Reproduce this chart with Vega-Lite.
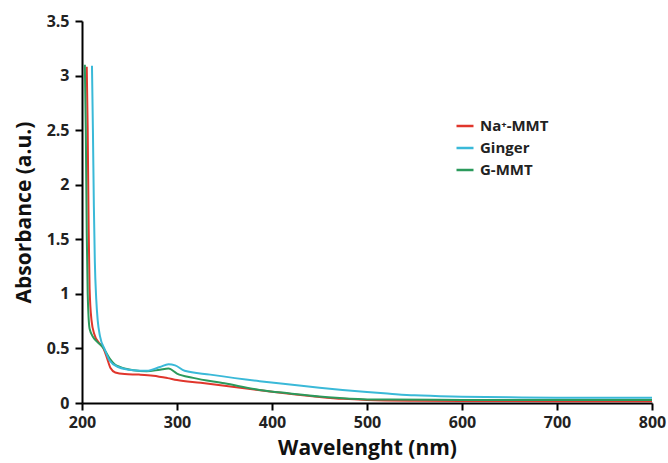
{
  "$schema": "https://vega.github.io/schema/vega-lite/v6.json",
  "width": 570,
  "height": 382,
  "autosize": {"type": "none"},
  "padding": {"left": 82, "top": 21, "right": 16, "bottom": 60},
  "background": "white",
  "config": {
    "view": {"stroke": null},
    "font": "Open Sans"
  },
  "data": {
    "values": [
      {"wl": 205, "a": 3.08, "s": "Na⁺-MMT"},
      {"wl": 206, "a": 2.5, "s": "Na⁺-MMT"},
      {"wl": 207, "a": 1.6, "s": "Na⁺-MMT"},
      {"wl": 208, "a": 1.05, "s": "Na⁺-MMT"},
      {"wl": 210, "a": 0.76, "s": "Na⁺-MMT"},
      {"wl": 213, "a": 0.63, "s": "Na⁺-MMT"},
      {"wl": 218, "a": 0.55, "s": "Na⁺-MMT"},
      {"wl": 222, "a": 0.51, "s": "Na⁺-MMT"},
      {"wl": 226, "a": 0.42, "s": "Na⁺-MMT"},
      {"wl": 230, "a": 0.32, "s": "Na⁺-MMT"},
      {"wl": 235, "a": 0.28, "s": "Na⁺-MMT"},
      {"wl": 245, "a": 0.265, "s": "Na⁺-MMT"},
      {"wl": 260, "a": 0.26, "s": "Na⁺-MMT"},
      {"wl": 275, "a": 0.25, "s": "Na⁺-MMT"},
      {"wl": 290, "a": 0.228, "s": "Na⁺-MMT"},
      {"wl": 300, "a": 0.21, "s": "Na⁺-MMT"},
      {"wl": 325, "a": 0.185, "s": "Na⁺-MMT"},
      {"wl": 350, "a": 0.158, "s": "Na⁺-MMT"},
      {"wl": 375, "a": 0.13, "s": "Na⁺-MMT"},
      {"wl": 400, "a": 0.103, "s": "Na⁺-MMT"},
      {"wl": 425, "a": 0.078, "s": "Na⁺-MMT"},
      {"wl": 450, "a": 0.056, "s": "Na⁺-MMT"},
      {"wl": 475, "a": 0.038, "s": "Na⁺-MMT"},
      {"wl": 500, "a": 0.028, "s": "Na⁺-MMT"},
      {"wl": 550, "a": 0.021, "s": "Na⁺-MMT"},
      {"wl": 600, "a": 0.019, "s": "Na⁺-MMT"},
      {"wl": 700, "a": 0.017, "s": "Na⁺-MMT"},
      {"wl": 800, "a": 0.016, "s": "Na⁺-MMT"},
      {"wl": 203, "a": 3.1, "s": "G-MMT"},
      {"wl": 204, "a": 2.5, "s": "G-MMT"},
      {"wl": 205, "a": 1.55, "s": "G-MMT"},
      {"wl": 206, "a": 1.0, "s": "G-MMT"},
      {"wl": 208, "a": 0.68, "s": "G-MMT"},
      {"wl": 212, "a": 0.6, "s": "G-MMT"},
      {"wl": 216, "a": 0.56, "s": "G-MMT"},
      {"wl": 222, "a": 0.51, "s": "G-MMT"},
      {"wl": 229, "a": 0.41, "s": "G-MMT"},
      {"wl": 235, "a": 0.35, "s": "G-MMT"},
      {"wl": 240, "a": 0.33, "s": "G-MMT"},
      {"wl": 254, "a": 0.3, "s": "G-MMT"},
      {"wl": 268, "a": 0.29, "s": "G-MMT"},
      {"wl": 282, "a": 0.305, "s": "G-MMT"},
      {"wl": 291, "a": 0.315, "s": "G-MMT"},
      {"wl": 300, "a": 0.27, "s": "G-MMT"},
      {"wl": 317, "a": 0.23, "s": "G-MMT"},
      {"wl": 350, "a": 0.18, "s": "G-MMT"},
      {"wl": 387, "a": 0.12, "s": "G-MMT"},
      {"wl": 419, "a": 0.088, "s": "G-MMT"},
      {"wl": 450, "a": 0.06, "s": "G-MMT"},
      {"wl": 482, "a": 0.04, "s": "G-MMT"},
      {"wl": 524, "a": 0.031, "s": "G-MMT"},
      {"wl": 600, "a": 0.028, "s": "G-MMT"},
      {"wl": 700, "a": 0.027, "s": "G-MMT"},
      {"wl": 800, "a": 0.027, "s": "G-MMT"},
      {"wl": 210.5, "a": 3.09, "s": "Ginger"},
      {"wl": 211.5, "a": 2.5, "s": "Ginger"},
      {"wl": 212.5, "a": 1.8, "s": "Ginger"},
      {"wl": 213.5, "a": 1.3, "s": "Ginger"},
      {"wl": 215, "a": 0.95, "s": "Ginger"},
      {"wl": 216.5, "a": 0.76, "s": "Ginger"},
      {"wl": 219, "a": 0.61, "s": "Ginger"},
      {"wl": 224, "a": 0.49, "s": "Ginger"},
      {"wl": 229, "a": 0.39, "s": "Ginger"},
      {"wl": 238, "a": 0.33, "s": "Ginger"},
      {"wl": 254, "a": 0.3, "s": "Ginger"},
      {"wl": 268, "a": 0.295, "s": "Ginger"},
      {"wl": 282, "a": 0.33, "s": "Ginger"},
      {"wl": 291, "a": 0.355, "s": "Ginger"},
      {"wl": 298, "a": 0.345, "s": "Ginger"},
      {"wl": 308, "a": 0.295, "s": "Ginger"},
      {"wl": 335, "a": 0.26, "s": "Ginger"},
      {"wl": 387, "a": 0.2, "s": "Ginger"},
      {"wl": 419, "a": 0.17, "s": "Ginger"},
      {"wl": 450, "a": 0.14, "s": "Ginger"},
      {"wl": 500, "a": 0.1, "s": "Ginger"},
      {"wl": 524, "a": 0.085, "s": "Ginger"},
      {"wl": 550, "a": 0.07, "s": "Ginger"},
      {"wl": 600, "a": 0.058, "s": "Ginger"},
      {"wl": 650, "a": 0.052, "s": "Ginger"},
      {"wl": 700, "a": 0.049, "s": "Ginger"},
      {"wl": 800, "a": 0.047, "s": "Ginger"}
    ]
  },
  "mark": {"type": "line", "strokeWidth": 2, "interpolate": "monotone"},
  "encoding": {
    "x": {
      "field": "wl",
      "type": "quantitative",
      "scale": {"domain": [200, 800], "nice": false, "zero": false},
      "axis": {
        "title": "Wavelenght (nm)",
        "values": [200, 300, 400, 500, 600, 700, 800],
        "grid": false,
        "domainColor": "black",
        "domainWidth": 2,
        "tickColor": "black",
        "tickWidth": 2,
        "tickSize": 7,
        "labelFont": "Open Sans",
        "labelFontSize": 16,
        "labelFontWeight": "bold",
        "labelColor": "#222",
        "labelPadding": 4,
        "labelFlush": false,
        "titleFont": "Open Sans",
        "titleFontSize": 21,
        "titleFontWeight": "bold",
        "titleColor": "#111",
        "titlePadding": 7
      }
    },
    "y": {
      "field": "a",
      "type": "quantitative",
      "scale": {"domain": [0, 3.5], "nice": false},
      "axis": {
        "title": "Absorbance (a.u.)",
        "values": [0, 0.5, 1, 1.5, 2, 2.5, 3, 3.5],
        "format": "~g",
        "grid": false,
        "domainColor": "black",
        "domainWidth": 2,
        "tickColor": "black",
        "tickWidth": 2,
        "tickSize": 7,
        "labelFont": "Open Sans",
        "labelFontSize": 16,
        "labelFontWeight": "bold",
        "labelColor": "#222",
        "labelPadding": 6,
        "labelFlush": false,
        "titleFont": "Open Sans",
        "titleFontSize": 21,
        "titleFontWeight": "bold",
        "titleColor": "#111",
        "titlePadding": 12
      }
    },
    "color": {
      "field": "s",
      "type": "nominal",
      "scale": {
        "domain": ["Na⁺-MMT", "Ginger", "G-MMT"],
        "range": ["#e0362c", "#3ab9d8", "#2b9a5c"]
      },
      "legend": {
        "title": null,
        "orient": "none",
        "legendX": 373,
        "legendY": 95,
        "symbolType": "stroke",
        "symbolSize": 289,
        "symbolStrokeWidth": 2.5,
        "labelFont": "Open Sans",
        "labelFontSize": 15,
        "labelFontWeight": "bold",
        "labelColor": "#222",
        "labelOffset": 5,
        "rowPadding": 4
      }
    }
  }
}
